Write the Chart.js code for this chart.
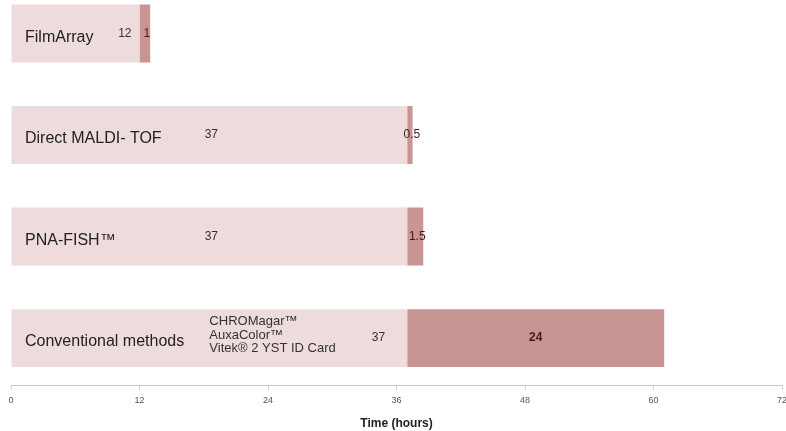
<!DOCTYPE html>
<html>
<head>
<meta charset="utf-8">
<script src="https://cdn.jsdelivr.net/npm/chart.js@4.4.1/dist/chart.umd.min.js"></script>
<style>
  html, body { margin: 0; padding: 0; background: #fff; }
  #wrap { width: 786px; height: 431px; }
</style>
</head>
<body>
<div id="wrap"><canvas id="timeChart"></canvas></div>
<script>
const methods = ['FilmArray', 'Direct MALDI- TOF', 'PNA-FISH™', 'Conventional methods'];
const cultureHours = [12, 37, 37, 37];   // blood culture to positivity
const testHours = [1, 0.5, 1.5, 24];     // identification step
const cultureLabels = ['12', '37', '37', '37'];
const testLabels = ['1', '0.5', '1.5', '24'];
const subLabels = [[], [], [], ['CHROMagar™', 'AuxaColor™', 'Vitek® 2 YST ID Card']];
const labelAlign = ['end', 'center', 'center', 'end'];
const xTicks = [0, 12, 24, 36, 48, 60, 72];

// rows go top to bottom on a numeric index axis
const toPoints = values => values.map((v, i) => ({ x: v, y: i }));

// text written inside the bars
const barText = {
    id: 'barText',
    afterDatasetsDraw(chart) {
        const ctx = chart.ctx;
        const light = chart.getDatasetMeta(0).data;
        const dark = chart.getDatasetMeta(1).data;
        const x0 = chart.scales.x.getPixelForValue(0);
        ctx.save();
        ctx.textBaseline = 'middle';
        methods.forEach((name, i) => {
            const bar = light[i];
            const y = bar.y;

            ctx.fillStyle = '#222';
            ctx.font = '16px "Liberation Sans", Arial, sans-serif';
            ctx.textAlign = 'left';
            ctx.fillText(name, x0 + 14, y + 4);

            ctx.font = '12px "Liberation Sans", Arial, sans-serif';
            ctx.fillStyle = '#333';
            if (labelAlign[i] === 'end') {
                ctx.textAlign = 'right';
                ctx.fillText(cultureLabels[i], bar.x - (i === 0 ? 8 : 22), y);
            } else {
                ctx.textAlign = 'center';
                ctx.fillText(cultureLabels[i], (bar.x + bar.base) / 2 + 2, y);
            }

            // media names for the conventional workflow
            const lines = subLabels[i];
            ctx.textAlign = 'left';
            ctx.font = '13px "Liberation Sans", Arial, sans-serif';
            lines.forEach((t, k) => {
                ctx.fillText(t, (bar.x + bar.base) / 2, y - 3 + (k - (lines.length - 1) / 2) * 13.5);
            });

            const d = dark[i];
            ctx.textAlign = 'center';
            ctx.fillStyle = '#4a1818';
            ctx.font = (testHours[i] > 5 ? 'bold ' : '') + '12px "Liberation Sans", Arial, sans-serif';
            ctx.fillText(testLabels[i], (d.x + d.base) / 2 + (testHours[i] > 5 ? 0 : 2), y);
        });
        ctx.restore();
    }
};

new Chart(document.getElementById('timeChart'), {
    type: 'bar',
    data: {
        datasets: [
            {
                data: toPoints(cultureHours),
                backgroundColor: '#eedbdb',
                barPercentage: 0.57,
                categoryPercentage: 1
            },
            {
                data: toPoints(testHours),
                backgroundColor: '#c69594',
                barPercentage: 0.57,
                categoryPercentage: 1
            }
        ]
    },
    options: {
        indexAxis: 'y',
        responsive: true,
        maintainAspectRatio: false,
        animation: false,
        layout: { padding: { left: 11, right: 4, top: 0, bottom: 0 } },
        plugins: {
            legend: { display: false },
            tooltip: { enabled: false }
        },
        scales: {
            x: {
                stacked: true,
                min: 0,
                max: 72,
                afterBuildTicks: axis => { axis.ticks = xTicks.map(v => ({ value: v })); },
                afterFit: axis => { axis.paddingRight = 0; },
                border: { color: '#c8c8c8' },
                grid: { drawOnChartArea: false, color: '#d0d0d0', tickLength: 4 },
                ticks: {
                    padding: 5,
                    color: '#555',
                    font: { size: 9, family: '"Liberation Sans", Arial, sans-serif' }
                },
                title: {
                    display: true,
                    text: 'Time (hours)',
                    color: '#222',
                    padding: { top: 6, bottom: 0 },
                    font: { size: 12, weight: 'bold', family: '"Liberation Sans Narrow", "Liberation Sans", Arial, sans-serif' }
                }
            },
            y: {
                type: 'linear',
                reverse: true,
                stacked: true,
                offset: false,
                min: -0.33,
                max: 3.47,
                afterBuildTicks: axis => { axis.ticks = methods.map((m, i) => ({ value: i })); },
                display: false
            }
        }
    },
    plugins: [barText]
});
</script>
</body>
</html>
